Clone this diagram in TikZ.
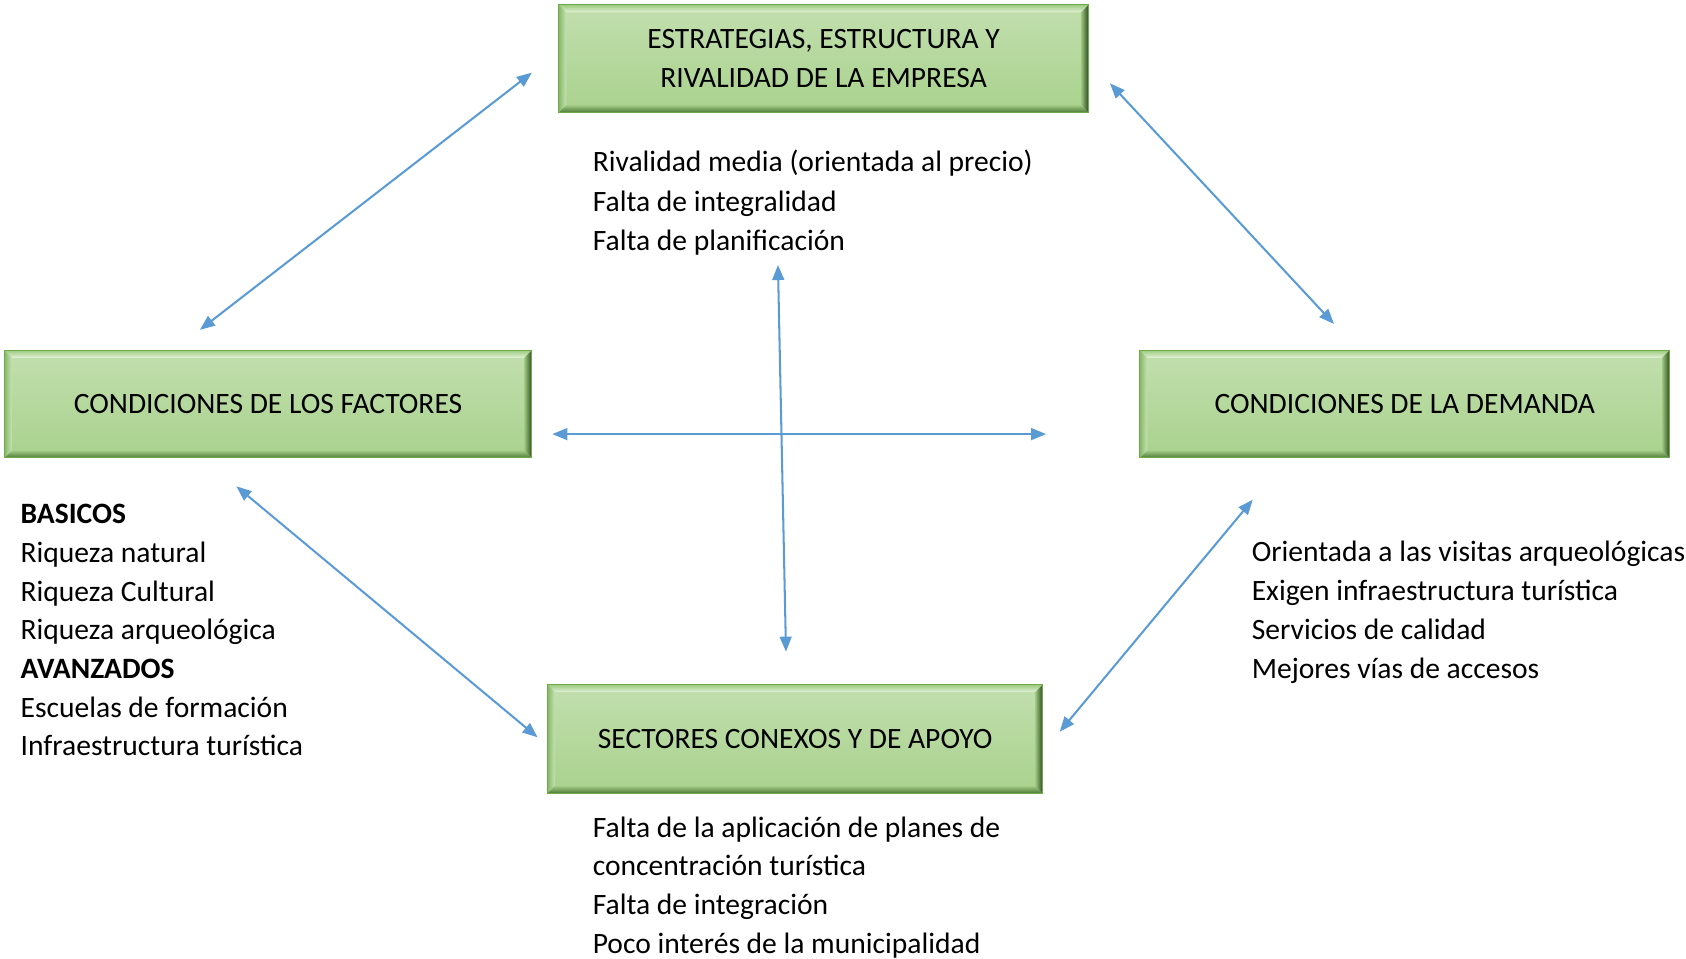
\documentclass[tikz,border=0pt]{standalone}
\usepackage{fontspec}
\setmainfont{Carlito}
\usetikzlibrary{arrows.meta}
\definecolor{bvborder}{HTML}{70A94A}
\definecolor{bvmaintop}{HTML}{C2DFAF}
\definecolor{bvmainbot}{HTML}{A9D28D}
\definecolor{bvtopout}{HTML}{9DCB80}
\definecolor{bvtopin}{HTML}{E3F1D8}
\definecolor{bvleftout}{HTML}{86B968}
\definecolor{bvleftin}{HTML}{C7E2B5}
\definecolor{bvrightin}{HTML}{9CC880}
\definecolor{bvrightout}{HTML}{2E4A20}
\definecolor{bvbotin}{HTML}{A4CE88}
\definecolor{bvbotout}{HTML}{4F7A38}
\definecolor{arrowblue}{HTML}{5B9BD5}
\tikzset{
  bevelbox/.style={draw=bvborder, line width=1pt, inner sep=0pt,
    top color=bvmaintop, bottom color=bvmainbot, align=center,
    font=\fontsize{27.5}{36.3}\selectfont,
    path picture={
      \path (path picture bounding box.north west) coordinate (pp-nw)
            (path picture bounding box.north east) coordinate (pp-ne)
            (path picture bounding box.south west) coordinate (pp-sw)
            (path picture bounding box.south east) coordinate (pp-se);
      \shade[top color=bvtopout, bottom color=bvtopin]
        (pp-nw) -- (pp-ne) -- ([shift={(-7pt,-7pt)}]pp-ne) -- ([shift={(7pt,-7pt)}]pp-nw) -- cycle;
      \shade[top color=bvbotin, bottom color=bvbotout]
        (pp-sw) -- (pp-se) -- ([shift={(-7pt,7pt)}]pp-se) -- ([shift={(7pt,7pt)}]pp-sw) -- cycle;
      \shade[left color=bvleftout, right color=bvleftin]
        (pp-nw) -- ([shift={(7pt,-7pt)}]pp-nw) -- ([shift={(7pt,7pt)}]pp-sw) -- (pp-sw) -- cycle;
      \shade[left color=bvrightin, right color=bvrightout]
        (pp-ne) -- ([shift={(-7pt,-7pt)}]pp-ne) -- ([shift={(-7pt,7pt)}]pp-se) -- (pp-se) -- cycle;
    }},
  listtext/.style={anchor=base west, inner sep=0pt, font=\fontsize{27.5}{36}\selectfont},
  link/.style={draw=arrowblue, line width=1.9pt, {Triangle[length=14pt,width=11pt]}-{Triangle[length=14pt,width=11pt]}}
}
\begin{document}
\begin{tikzpicture}[x=1pt,y=-1pt]
\useasboundingbox (0,0) rectangle (1569.1,891.6);

% boxes
\node[bevelbox, minimum width=493pt, minimum height=100pt] (top) at (766.5,54.5)
  {ESTRATEGIAS, ESTRUCTURA Y\\RIVALIDAD DE LA EMPRESA};
\node[bevelbox, minimum width=491pt, minimum height=100pt] (left) at (249.5,376)
  {CONDICIONES DE LOS FACTORES};
\node[bevelbox, minimum width=493pt, minimum height=100pt] (right) at (1307.3,376)
  {CONDICIONES DE LA DEMANDA};
\node[bevelbox, minimum width=461pt, minimum height=101pt] (bottom) at (740,687.7)
  {SECTORES CONEXOS Y DE APOYO};

% lists
\foreach \t [count=\i] in {{Rivalidad media (orientada al precio)},{Falta de integralidad},{Falta de planificación}}
  \node[listtext] (toplist\i) at (551.5,{159.9+36.5*(\i-1)}) {\t};
\foreach \t [count=\i] in {{\textbf{BASICOS}},{Riqueza natural},{Riqueza Cultural},{Riqueza arqueológica},{\textbf{AVANZADOS}},{Escuelas de formación},{Infraestructura turística}}
  \node[listtext] (leftlist\i) at (19,{487.3+36.03*(\i-1)}) {\t};
\foreach \t [count=\i] in {{Orientada a las visitas arqueológicas},{Exigen infraestructura turística},{Servicios de calidad},{Mejores vías de accesos}}
  \node[listtext] (rightlist\i) at (1164.8,{522.2+36.3*(\i-1)}) {\t};
\foreach \t [count=\i] in {{Falta de la aplicación de planes de},{concentración turística},{Falta de integración},{Poco interés de la municipalidad}}
  \node[listtext] (botlist\i) at (551.5,{779.2+36*(\i-1)}) {\t};

% arrow end points
\coordinate (a1s) at (186,307);    \coordinate (a1e) at (495,67.6);
\coordinate (a2s) at (1033,77.5);  \coordinate (a2e) at (1241.5,301.5);
\coordinate (a3s) at (514,404);    \coordinate (a3e) at (973.6,404);
\coordinate (a4s) at (724,246.6);  \coordinate (a4e) at (731.5,606.5);
\coordinate (a5s) at (220,452.6);  \coordinate (a5e) at (500.3,686.2);
\coordinate (a6s) at (986.2,681);  \coordinate (a6e) at (1165.9,465);

\draw[link] (a1s) -- (a1e);
\draw[link] (a2s) -- (a2e);
\draw[link] (a3s) -- (a3e);
\draw[link] (a4s) -- (a4e);
\draw[link] (a5s) -- (a5e);
\draw[link] (a6s) -- (a6e);
\end{tikzpicture}
\end{document}
